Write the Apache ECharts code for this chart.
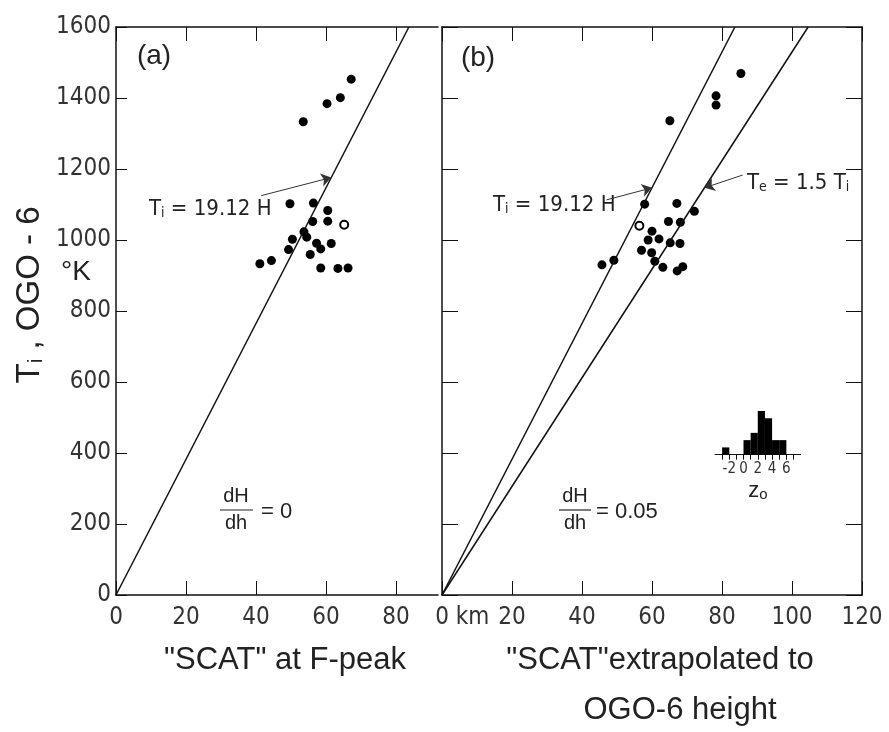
<!DOCTYPE html>
<html>
<head>
<meta charset="utf-8">
<script src="https://cdn.jsdelivr.net/npm/echarts@6/dist/echarts.min.js"></script>
<style>
  html, body { margin: 0; background: #fff; }
  #chart { width: 889px; height: 732px; }
</style>
</head>
<body>
<div id="chart"></div>
<script>
// (a) "SCAT" scale height at F-peak (km) vs OGO-6 ion temperature (K)
const peakH = [67.2, 64.1, 60.3, 53.5, 49.7, 56.4, 60.5, 56.2, 60.5, 53.7, 54.5, 50.4, 49.3, 57.3, 58.5, 61.5, 55.5, 58.5, 63.4, 66.3, 44.4, 41.1];
const peakT = [1453, 1401, 1384, 1333, 1102, 1104, 1083, 1052, 1053, 1023, 1008, 1002, 973, 991, 975, 990, 959, 921, 920, 921, 942, 933];
const peakOpenH = [65.2];
const peakOpenT = [1043];

// (b) "SCAT" extrapolated to OGO-6 height
const extH = [85.4, 78.3, 78.3, 65.1, 57.9, 67.1, 72.1, 64.7, 68.1, 60.0, 58.9, 62.0, 65.2, 68.0, 57.0, 59.9, 60.8, 63.1, 67.2, 68.8, 49.1, 45.7];
const extT = [1469, 1406, 1380, 1336, 1101, 1103, 1081, 1052, 1050, 1025, 1000, 1003, 992, 990, 971, 964, 940, 923, 913, 925, 943, 930];
const extOpenH = [56.4];
const extOpenT = [1040];

// model lines: Ti = 19.12 H, and Te = 1.5 Ti  ->  Ti = 19.12 H * 2 / 2.5
const slopeTi = 19.12;
const slopeTe = 19.12 * 2 / 2.5;
const tMax = 1600;

// inset histogram of z0
const zBins = [-2.5, -1.5, -0.5, 0.5, 1.5, 2.5, 3.5, 4.5, 5.5];
const zCounts = [1, 0, 0, 2, 3, 6, 5, 2, 2];

// tick values
const ticksA = [0, 20, 40, 60, 80];
const ticksB = [0, 20, 40, 60, 80, 100, 120];
const ticksT = [0, 200, 400, 600, 800, 1000, 1200, 1400, 1600];
const ticksZ = [-3, -2, -1, 0, 1, 2, 3, 4, 5, 6, 7];
const labelsZ = [-2, 0, 2, 4, 6];

// arrows from the labels to the lines
const arrowA = [[41.5, 1125], [61.5, 1176]];
const arrowBTi = [[47, 1113], [60, 1147]];
const arrowBTe = [[85.9, 1183], [75, 1147]];

const INK = '#111';
const TXT = '"Liberation Sans", Arial, sans-serif';
const NUM = '"DejaVu Sans Condensed", "Liberation Sans Narrow", sans-serif';

const zip = (a, b) => a.map((v, i) => [v, b[i]]);

const chart = echarts.init(document.getElementById('chart'), null, { renderer: 'canvas' });

const axisLine = { show: true, onZero: false, lineStyle: { color: INK, width: 1.5 } };
const tickIn = (vals, len) => ({ show: true, inside: true, length: len, customValues: vals, lineStyle: { color: INK, width: 1 } });
const numLabel = { color: '#333', fontFamily: NUM, fontSize: 24, hideOverlap: false, formatter: v => String(v) };

function frameX(grid, max, vals, pos) {
  return {
    gridIndex: grid, type: 'value', min: 0, max: max, position: pos,
    axisLine: axisLine, axisTick: tickIn(vals, 14),
    axisLabel: { show: false }, splitLine: { show: false }
  };
}

const dot = (grid, data) => ({
  type: 'scatter', xAxisIndex: grid === 0 ? 0 : 2, yAxisIndex: grid === 0 ? 0 : 1,
  data: data, symbol: 'circle', symbolSize: 9,
  itemStyle: { color: '#000', opacity: 1 }, silent: true
});
const ring = (grid, data) => ({
  type: 'scatter', xAxisIndex: grid === 0 ? 0 : 2, yAxisIndex: grid === 0 ? 0 : 1,
  data: data, symbol: 'circle', symbolSize: 8,
  itemStyle: { color: '#fff', borderColor: '#000', borderWidth: 2, opacity: 1 }, silent: true, z: 4
});
const modelLine = (grid, slope) => ({
  type: 'line', xAxisIndex: grid === 0 ? 0 : 2, yAxisIndex: grid === 0 ? 0 : 1,
  data: [[0, 0], [tMax / slope, tMax]], showSymbol: false, symbol: 'none',
  lineStyle: { color: INK, width: 1.5 }, silent: true
});
const arrow = (grid, pts) => ({
  type: 'line', xAxisIndex: grid === 0 ? 0 : 2, yAxisIndex: grid === 0 ? 0 : 1,
  data: [], silent: true,
  markLine: {
    silent: true, animation: false, symbol: ['none', 'arrow'], symbolSize: 10,
    label: { show: false }, lineStyle: { color: '#333', width: 1, type: 'solid' },
    itemStyle: { color: '#333' },
    data: [[{ coord: pts[0] }, { coord: pts[1] }]]
  }
});

const sub = (size) => ({ s: { fontFamily: NUM, fontSize: size, verticalAlign: 'bottom', lineHeight: 14 } });

const option = {
  animation: false,
  grid: [
    { left: 116, top: 27, width: 322, height: 568, outerBoundsMode: 'none' },
    { left: 442, top: 27, width: 420, height: 568, outerBoundsMode: 'none' },
    { left: 715, top: 411, width: 85.6, height: 43.7, outerBoundsMode: 'none' }
  ],
  xAxis: [
    Object.assign(frameX(0, 92, ticksA, 'bottom'), {
      axisLabel: Object.assign({}, numLabel, { show: true, margin: 11, customValues: ticksA })
    }),
    frameX(0, 92, ticksA, 'top'),
    Object.assign(frameX(1, 120, ticksB, 'bottom'), {
      axisLabel: Object.assign({}, numLabel, {
        show: true, margin: 11, customValues: ticksB,
        formatter: v => v === 0 ? '{pad|km }0 km' : String(v),
        rich: { pad: { color: 'transparent', fontFamily: NUM, fontSize: 24 } }
      })
    }),
    frameX(1, 120, ticksB, 'top'),
    {
      gridIndex: 2, type: 'value', min: -4, max: 8, position: 'bottom',
      axisLine: { show: true, onZero: false, lineStyle: { color: INK, width: 1 } },
      axisTick: { show: true, inside: false, length: 5, customValues: ticksZ, lineStyle: { color: INK } },
      axisLabel: { color: '#333', fontFamily: NUM, fontSize: 15, margin: 7, customValues: labelsZ, hideOverlap: false, formatter: v => String(v) },
      splitLine: { show: false }
    }
  ],
  yAxis: [
    {
      gridIndex: 0, type: 'value', min: 0, max: tMax, position: 'left',
      axisLine: axisLine, axisTick: tickIn(ticksT, 11),
      axisLabel: Object.assign({}, numLabel, { margin: 5, customValues: ticksT }),
      splitLine: { show: false }
    },
    {
      gridIndex: 1, type: 'value', min: 0, max: tMax, position: 'left',
      axisLine: axisLine, axisTick: tickIn(ticksT, 16),
      axisLabel: { show: false }, splitLine: { show: false }
    },
    {
      gridIndex: 1, type: 'value', min: 0, max: tMax, position: 'right',
      axisLine: axisLine, axisTick: tickIn(ticksT, 16),
      axisLabel: { show: false }, splitLine: { show: false }
    },
    { gridIndex: 2, type: 'value', min: 0, max: 6, show: false }
  ],
  series: [
    modelLine(0, slopeTi),
    dot(0, zip(peakH, peakT)),
    ring(0, zip(peakOpenH, peakOpenT)),
    arrow(0, arrowA),
    modelLine(1, slopeTi),
    modelLine(1, slopeTe),
    dot(1, zip(extH, extT)),
    ring(1, zip(extOpenH, extOpenT)),
    arrow(1, arrowBTi),
    arrow(1, arrowBTe),
    {
      type: 'bar', xAxisIndex: 4, yAxisIndex: 3, data: zip(zBins, zCounts),
      barWidth: 7.2, itemStyle: { color: '#000', opacity: 1 }, silent: true
    }
  ],
  graphic: [
    // panel tags
    { type: 'text', x: 154, y: 56, style: { text: '(a)', font: '28px ' + TXT, fill: '#222', align: 'center', verticalAlign: 'middle' } },
    { type: 'text', x: 478, y: 58, style: { text: '(b)', font: '28px ' + TXT, fill: '#222', align: 'center', verticalAlign: 'middle' } },
    // line labels
    { type: 'text', x: 149, y: 209, style: {
      text: 'T{s|i} = 19.12 H', font: '22px ' + NUM, fill: '#222', verticalAlign: 'middle', rich: sub(14) } },
    { type: 'text', x: 493, y: 205, style: {
      text: 'T{s|i} = 19.12 H', font: '22px ' + NUM, fill: '#222', verticalAlign: 'middle', rich: sub(14) } },
    { type: 'text', x: 747, y: 183, style: {
      text: 'T{s|e} = 1.5 T{s|i}', font: '22px ' + NUM, fill: '#222', verticalAlign: 'middle', rich: sub(14) } },
    // dH/dh = 0
    { type: 'text', x: 236, y: 496, style: { text: 'dH', font: '20px ' + TXT, fill: '#222', align: 'center', verticalAlign: 'middle' } },
    { type: 'line', shape: { x1: 220, y1: 510, x2: 253, y2: 510 }, style: { stroke: '#222', lineWidth: 1.2 } },
    { type: 'text', x: 236, y: 523, style: { text: 'dh', font: '20px ' + TXT, fill: '#222', align: 'center', verticalAlign: 'middle' } },
    { type: 'text', x: 261, y: 512, style: { text: '= 0', font: '22px ' + TXT, fill: '#222', verticalAlign: 'middle' } },
    // dH/dh = 0.05
    { type: 'text', x: 575, y: 496, style: { text: 'dH', font: '20px ' + TXT, fill: '#222', align: 'center', verticalAlign: 'middle' } },
    { type: 'line', shape: { x1: 559, y1: 510, x2: 591, y2: 510 }, style: { stroke: '#222', lineWidth: 1.2 } },
    { type: 'text', x: 575, y: 523, style: { text: 'dh', font: '20px ' + TXT, fill: '#222', align: 'center', verticalAlign: 'middle' } },
    { type: 'text', x: 596, y: 512, style: { text: '= 0.05', font: '22px ' + TXT, fill: '#222', verticalAlign: 'middle' } },
    // z0 label of the inset
    { type: 'text', x: 758, y: 491, style: {
      text: 'z{s|o}', font: '22px ' + TXT, fill: '#222', align: 'center', verticalAlign: 'middle',
      rich: { s: { fontFamily: TXT, fontSize: 15, verticalAlign: 'bottom', lineHeight: 12 } } } },
    // axis titles
    { type: 'text', x: 30, y: 295, rotation: Math.PI / 2, style: {
      text: 'T{s|i} , OGO - 6', font: '33px ' + TXT, fill: '#222', align: 'center', verticalAlign: 'middle',
      rich: { s: { fontFamily: TXT, fontSize: 21, verticalAlign: 'bottom', lineHeight: 16 } } } },
    { type: 'text', x: 76, y: 272, style: { text: '°K', font: '28px ' + TXT, fill: '#222', align: 'center', verticalAlign: 'middle' } },
    { type: 'text', x: 285, y: 660, style: { text: '"SCAT" at F-peak', font: '31px ' + TXT, fill: '#222', align: 'center', verticalAlign: 'middle' } },
    { type: 'text', x: 660, y: 660, style: { text: '"SCAT"extrapolated to', font: '31px ' + TXT, fill: '#222', align: 'center', verticalAlign: 'middle' } },
    { type: 'text', x: 680, y: 710, style: { text: 'OGO-6 height', font: '31px ' + TXT, fill: '#222', align: 'center', verticalAlign: 'middle' } }
  ]
};

chart.setOption(option);
</script>
</body>
</html>
